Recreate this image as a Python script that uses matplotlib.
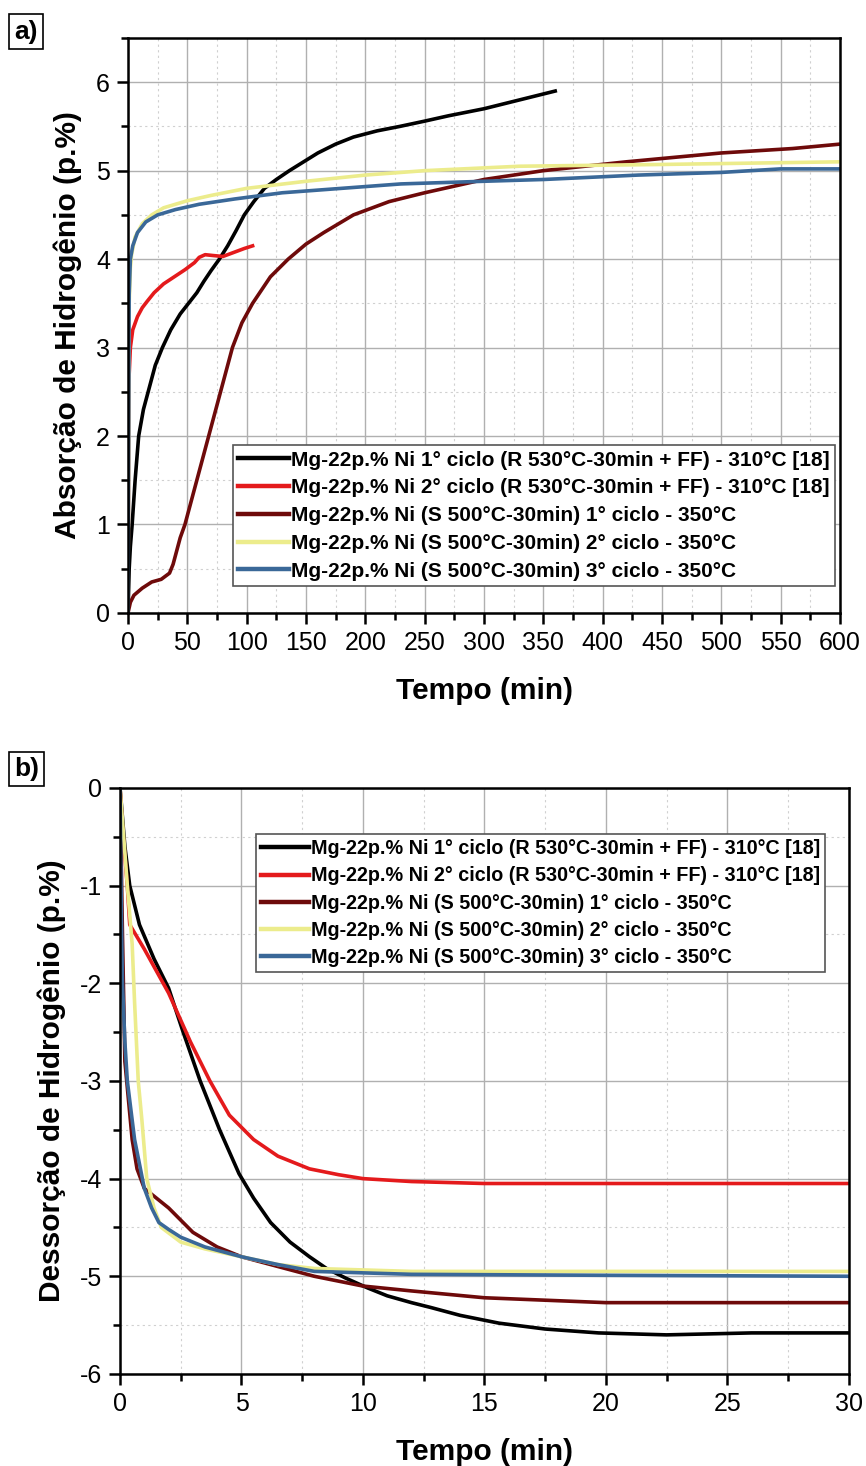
import matplotlib
matplotlib.use("Agg")
import matplotlib.pyplot as plt
from matplotlib.ticker import MultipleLocator

plt.rcParams["font.family"] = ["Liberation Sans", "DejaVu Sans"]
plt.rcParams["axes.unicode_minus"] = False

labels = [
    "Mg-22p.% Ni 1° ciclo (R 530°C-30min + FF) - 310°C [18]",
    "Mg-22p.% Ni 2° ciclo (R 530°C-30min + FF) - 310°C [18]",
    "Mg-22p.% Ni (S 500°C-30min) 1° ciclo - 350°C",
    "Mg-22p.% Ni (S 500°C-30min) 2° ciclo - 350°C",
    "Mg-22p.% Ni (S 500°C-30min) 3° ciclo - 350°C",
]
colors = ["#000000", "#e41a1c", "#6e0a0a", "#ecec8c", "#3a6898"]

# ---- absorcao (a) ----
abs_black_t = [0, 1, 2, 3.5, 6, 9, 13, 18, 23, 29, 36, 44, 51, 58, 64, 70, 77, 84, 91, 98, 106, 115, 125, 136, 148, 160, 175, 190, 210, 229, 250, 270, 300, 330, 360]
abs_black_y = [0, 0.5, 0.75, 1.0, 1.5, 2.0, 2.3, 2.55, 2.8, 3.0, 3.2, 3.38, 3.5, 3.62, 3.75, 3.87, 4.0, 4.15, 4.32, 4.5, 4.65, 4.8, 4.9, 5.0, 5.1, 5.2, 5.3, 5.38, 5.45, 5.5, 5.56, 5.62, 5.7, 5.8, 5.9]

abs_red_t = [0, 0.5, 1, 2, 4, 8, 12, 16, 22, 30, 39, 48, 56, 60, 65, 72, 80, 90, 98, 105]
abs_red_y = [0, 2.0, 2.7, 3.0, 3.2, 3.35, 3.45, 3.52, 3.62, 3.72, 3.8, 3.88, 3.96, 4.02, 4.05, 4.04, 4.03, 4.08, 4.12, 4.15]

abs_dred_t = [0, 2, 5, 12, 20, 28, 35, 38, 41, 44, 48, 53, 58, 63, 68, 73, 78, 83, 88, 96, 105, 120, 135, 150, 165, 190, 220, 250, 300, 350, 420, 500, 560, 600]
abs_dred_y = [0, 0.12, 0.2, 0.28, 0.35, 0.38, 0.45, 0.55, 0.7, 0.85, 1.0, 1.25, 1.5, 1.75, 2.0, 2.25, 2.5, 2.75, 3.0, 3.28, 3.5, 3.8, 4.0, 4.17, 4.3, 4.5, 4.65, 4.75, 4.9, 5.0, 5.1, 5.2, 5.25, 5.3]

abs_yel_t = [0, 1, 2, 3, 6, 12, 20, 30, 50, 70, 100, 150, 200, 250, 330, 450, 600]
abs_yel_y = [0, 3.5, 3.9, 4.05, 4.25, 4.4, 4.5, 4.58, 4.66, 4.72, 4.8, 4.88, 4.95, 5.0, 5.05, 5.07, 5.1]

abs_blue_t = [0, 1, 2, 4, 8, 15, 25, 40, 60, 90, 130, 180, 230, 300, 350, 430, 500, 550, 600]
abs_blue_y = [0, 3.6, 4.0, 4.15, 4.3, 4.42, 4.5, 4.56, 4.62, 4.68, 4.75, 4.8, 4.85, 4.88, 4.9, 4.95, 4.98, 5.02, 5.02]

# ---- dessorcao (b) ----
des_black_t = [0, 0.2, 0.4, 0.8, 1.4, 2.0, 2.6, 3.3, 4.1, 4.9, 5.5, 6.2, 7.0, 7.8, 8.5, 9.3, 10.2, 11, 12, 12.8, 14, 15.6, 17.5, 19.7, 22.5, 26, 30]
des_black_y = [0, -0.6, -1.0, -1.4, -1.75, -2.05, -2.5, -3.0, -3.5, -3.95, -4.2, -4.45, -4.65, -4.8, -4.92, -5.02, -5.12, -5.2, -5.27, -5.32, -5.4, -5.48, -5.54, -5.58, -5.6, -5.58, -5.58]

des_red_t = [0, 0.1, 0.3, 0.4, 1.0, 2.0, 2.9, 3.7, 4.5, 5.5, 6.5, 7.8, 9, 10, 12, 15, 20, 30]
des_red_y = [0, -0.4, -1.0, -1.4, -1.65, -2.1, -2.6, -3.0, -3.35, -3.6, -3.77, -3.9, -3.96, -4.0, -4.03, -4.05, -4.05, -4.05]

des_dred_t = [0, 0.1, 0.2, 0.35, 0.5, 0.7, 1.0, 1.5, 2.0, 3.0, 4.0, 5.0, 6.5, 8.0, 10, 12, 15, 20, 25, 30]
des_dred_y = [0, -1.5, -2.8, -3.2, -3.6, -3.9, -4.1, -4.2, -4.3, -4.55, -4.7, -4.8, -4.9, -5.0, -5.1, -5.15, -5.22, -5.27, -5.27, -5.27]

des_yel_t = [0, 0.15, 0.3, 0.4, 0.5, 0.6, 0.75, 0.9, 1.1, 1.4, 1.7, 2.5, 3.5, 5.0, 6.5, 8.0, 12, 20, 30]
des_yel_y = [0, -0.5, -1.0, -1.3, -1.6, -2.2, -3.0, -3.4, -4.0, -4.3, -4.5, -4.65, -4.72, -4.8, -4.88, -4.92, -4.95, -4.95, -4.95]

des_blue_t = [0, 0.05, 0.1, 0.2, 0.3, 0.6, 1.0, 1.3, 1.6, 2.0, 2.5, 3.5, 5.0, 6.5, 8.0, 12, 20, 30]
des_blue_y = [0, -1.2, -2.0, -2.6, -3.0, -3.6, -4.1, -4.3, -4.45, -4.52, -4.6, -4.7, -4.8, -4.88, -4.95, -4.98, -4.99, -5.0]

abs_series = [(abs_black_t, abs_black_y), (abs_red_t, abs_red_y), (abs_dred_t, abs_dred_y),
              (abs_yel_t, abs_yel_y), (abs_blue_t, abs_blue_y)]
des_series = [(des_black_t, des_black_y), (des_red_t, des_red_y), (des_dred_t, des_dred_y),
              (des_yel_t, des_yel_y), (des_blue_t, des_blue_y)]


def style_axis(ax, xmaj, xmin, ymaj, ymin):
    ax.xaxis.set_major_locator(MultipleLocator(xmaj))
    ax.xaxis.set_minor_locator(MultipleLocator(xmin))
    ax.yaxis.set_major_locator(MultipleLocator(ymaj))
    ax.yaxis.set_minor_locator(MultipleLocator(ymin))
    ax.grid(True, which="major", color="#b0b0b0", linewidth=1.0)
    ax.grid(True, which="minor", color="#d0d0d0", linewidth=0.8, linestyle=(0, (2, 3)))
    ax.set_axisbelow(True)
    for s in ax.spines.values():
        s.set_linewidth(1.8)
    ax.tick_params(which="major", direction="out", length=8, width=1.8, labelsize=18, pad=5)
    ax.tick_params(which="minor", direction="out", length=5, width=1.8)


def add_legend(ax, loc, anchor, size, spacing):
    leg = ax.legend(loc=loc, bbox_to_anchor=anchor, prop={"weight": "bold", "size": size},
                    frameon=True, fancybox=False, edgecolor="#555555", framealpha=1,
                    handlelength=2.45, handletextpad=0.1, borderpad=0.25,
                    labelspacing=spacing, borderaxespad=0)
    leg.get_frame().set_linewidth(1.2)
    for line in leg.get_lines():
        line.set_linewidth(3.2)
    return leg


fig = plt.figure(figsize=(8.66, 14.66), dpi=100)

# painel a
ax1 = fig.add_axes([0.1478, 0.5819, 0.8222, 0.3922])
for (t, y), c, lab in zip(abs_series, colors, labels):
    ax1.plot(t, y, color=c, linewidth=2.6, label=lab)
ax1.set_xlim(0, 600)
ax1.set_ylim(0, 6.5)
style_axis(ax1, 50, 25, 1, 0.5)
ax1.set_xlabel("Tempo (min)", fontsize=21.5, fontweight="bold", labelpad=16)
ax1.set_ylabel("Absorção de Hidrogênio (p.%)", fontsize=21.5, fontweight="bold", labelpad=10)
add_legend(ax1, "lower right", (0.993, 0.047), 15, 0.42)
fig.text(0.016, 0.9785, "a)", fontsize=19, fontweight="bold", va="center", ha="left",
         bbox=dict(boxstyle="square,pad=0.2", facecolor="white", edgecolor="black", linewidth=1.2))

# painel b
ax2 = fig.add_axes([0.1386, 0.0628, 0.8414, 0.3997])
for (t, y), c, lab in zip(des_series, colors, labels):
    ax2.plot(t, y, color=c, linewidth=2.6, label=lab)
ax2.set_xlim(0, 30)
ax2.set_ylim(-6, 0)
style_axis(ax2, 5, 2.5, 1, 0.5)
ax2.set_xlabel("Tempo (min)", fontsize=21.5, fontweight="bold", labelpad=16)
ax2.set_ylabel("Dessorção de Hidrogênio (p.%)", fontsize=21.5, fontweight="bold", labelpad=10)
add_legend(ax2, "upper right", (0.968, 0.921), 14.2, 0.42)
fig.text(0.016, 0.4755, "b)", fontsize=19, fontweight="bold", va="center", ha="left",
         bbox=dict(boxstyle="square,pad=0.2", facecolor="white", edgecolor="black", linewidth=1.2))

fig.savefig("out.png", dpi=100)
